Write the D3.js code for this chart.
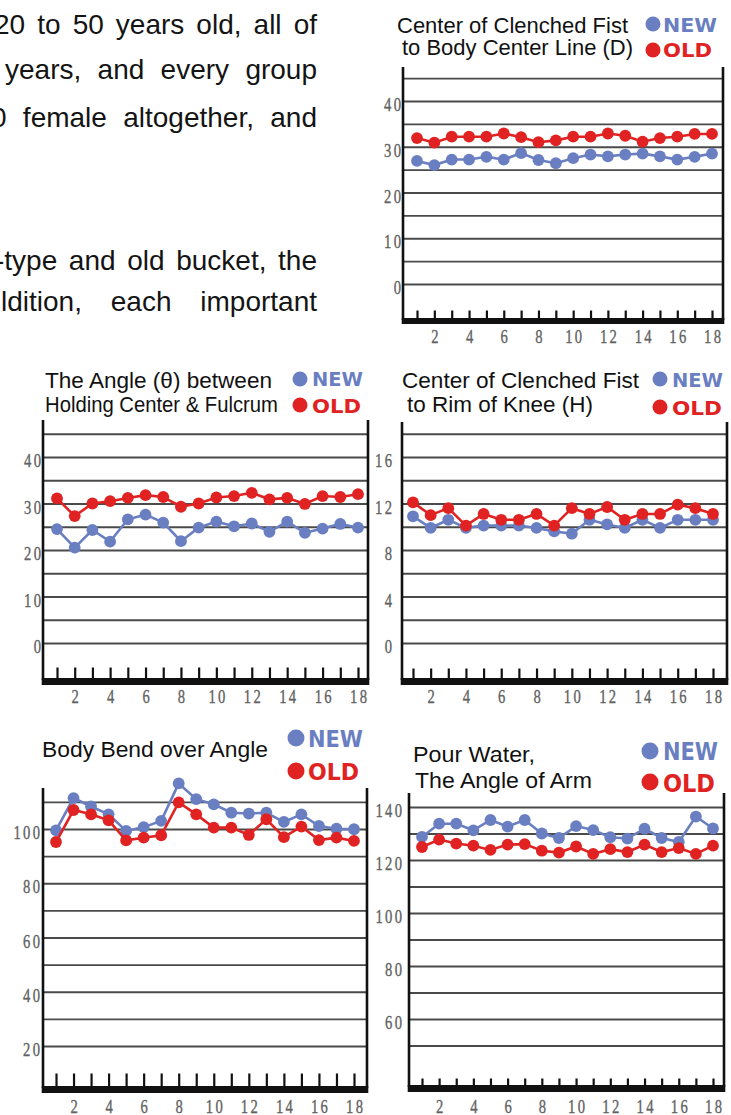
<!DOCTYPE html>
<html><head><meta charset="utf-8">
<script src="https://cdn.jsdelivr.net/npm/d3@7"></script>
<style>
html,body{margin:0;padding:0;background:#fff;overflow:hidden;}
svg{display:block;}
</style></head>
<body>
<svg id="c" width="731" height="1115"></svg>
<script>
// ---------------- DATA ----------------
const groups = [1,2,3,4,5,6,7,8,9,10,11,12,13,14,15,16,17,18];
const xTickLabels = [2,4,6,8,10,12,14,16,18];
const seriesNames = ["NEW","OLD"];

const titleD = ["Center of Clenched Fist","to Body Center Line (D)"];
const yTicksD = [0,10,20,30,40];
const gridD = [0,5,10,15,20,25,30,35,40,45];
const dNew = [26.9,26.0,27.2,27.2,27.8,27.2,28.6,27.1,26.4,27.5,28.3,27.9,28.3,28.5,27.9,27.2,27.8,28.5];
const dOld = [31.9,30.9,32.2,32.2,32.2,32.9,32.1,31.0,31.4,32.2,32.2,32.9,32.4,31.1,31.9,32.2,32.8,32.8];

const titleTheta = ["The Angle (θ) between","Holding Center & Fulcrum"];
const yTicksTheta = [0,10,20,30,40];
const gridTheta = [0,5,10,15,20,25,30,35,40,45];
const thetaNew = [24.5,20.5,24.3,21.8,26.6,27.6,25.9,21.9,24.8,26.1,25.1,25.7,23.9,26.1,23.7,24.6,25.6,24.8];
const thetaOld = [31.1,27.3,30.0,30.5,31.2,31.8,31.4,29.3,30.0,31.3,31.6,32.3,30.9,31.2,29.9,31.6,31.4,32.0];

const titleH = ["Center of Clenched Fist","to Rim of Knee (H)"];
const yTicksH = [0,4,8,12,16];
const gridH = [0,2,4,6,8,10,12,14,16,18];
const hNew = [10.9,9.9,10.6,9.9,10.1,10.1,10.1,9.9,9.6,9.4,10.6,10.2,9.9,10.6,9.9,10.6,10.6,10.6];
const hOld = [12.1,11.0,11.6,10.1,11.1,10.6,10.6,11.1,10.1,11.6,11.1,11.7,10.6,11.1,11.1,11.9,11.6,11.1];

const titleBend = ["Body Bend over Angle"];
const yTicksBend = [20,40,60,80,100];
const gridBend = [20,30,40,50,60,70,80,90,100,110];
const bendNew = [99.5,111.4,108.3,105.4,99.3,100.7,103.0,116.8,111.0,109.1,106.0,105.7,106.0,102.6,105.4,101.1,100.1,99.9];
const bendOld = [95.2,107.0,105.4,103.2,95.8,96.8,97.7,109.8,105.4,100.5,100.5,97.8,103.6,97.0,100.9,95.9,96.8,95.6];

const titlePour = ["Pour Water,","The Angle of Arm"];
const yTicksPour = [60,80,100,120,140];
const gridPour = [50,60,70,80,90,100,110,120,130,140];
const pourNew = [128.7,133.7,133.7,131.2,135.1,132.6,135.1,130.0,128.3,132.8,131.3,128.6,128.1,131.8,128.3,126.8,136.4,131.9];
const pourOld = [124.9,127.7,126.2,125.4,123.8,125.8,126.0,123.5,122.8,125.1,122.3,124.1,123.0,125.8,123.0,124.5,122.3,125.4];

const bodyText = [
  ["20","to","50","years","old,","all","of"],
  ["years,","and","every","group"],
  ["0","female","altogether,","and"],
  ["-type","and","old","bucket,","the"],
  ["ldition,","each","important"]
];

// ---------------- STYLE / LAYOUT ----------------
const SANS = "'Liberation Sans', Arial, Helvetica, sans-serif";
const SERIF = "'Liberation Serif', 'Times New Roman', serif";
const BOLD = "'DejaVu Sans', 'Liberation Sans', sans-serif";
const BLUE = "#6a7fc2", RED = "#e02222";
const svg = d3.select("#c");

// body paragraph (justified, cut at left edge like the reference)
const bodyLayout = [
  {start:-6, base:34}, {start:5, base:79}, {start:-9, base:127},
  {start:-5, base:270}, {start:1, base:311}
];
bodyText.forEach((words, li) => {
  const L = bodyLayout[li];
  const g = svg.append("g");
  const ts = words.map(w => g.append("text").text(w)
    .attr("font-family", SANS).attr("font-size", 28).attr("fill", "#141414").attr("y", L.base));
  const widths = ts.map(t => t.node().getComputedTextLength());
  const gap = (317 - L.start - d3.sum(widths)) / (words.length - 1);
  let x = L.start;
  ts.forEach((t, i) => { t.attr("x", x); x += widths[i] + gap; });
});

const layouts = [
  {left:403,right:723,top:67,barTop:318,barH:6,tickTop:310,x1:417,x18:712,
   yDomain:[0,40],yRange:[284,101],labelRight:401,xLabelY:337,
   titleX:[397,402],titleBase:[33,55],titleW:[231,231],
   dotX:653,dotY:[24,50],dotR:7.5,legX:663,legBase:[32,57],legW:[54,49],legFs:20},
  {left:43,right:368,top:420,barTop:678,barH:7,tickTop:667,x1:57,x18:358,
   yDomain:[0,40],yRange:[643,457],labelRight:41,xLabelY:697,
   titleX:[45,45],titleBase:[388,412],titleW:[227,233],
   dotX:300,dotY:[379,405],dotR:7.5,legX:312,legBase:[386,413],legW:[51,49],legFs:20},
  {left:402,right:727,top:422,barTop:678,barH:7,tickTop:668,x1:413,x18:713,
   yDomain:[0,16],yRange:[643,457],labelRight:392,xLabelY:697,
   titleX:[402,407],titleBase:[388,412],titleW:[237,186],
   dotX:660,dotY:[379,407],dotR:7.5,legX:672,legBase:[387,415],legW:[51,50],legFs:20},
  {left:43,right:367,top:788,barTop:1086,barH:7,tickTop:1073,x1:56,x18:354,
   yDomain:[20,100],yRange:[1046,829],labelRight:40,xLabelY:1107,
   titleX:[42],titleBase:[757],titleW:[226],
   dotX:296,dotY:[738,771],dotR:8.5,legX:308,legBase:[747,780],legW:[55,51],legFs:23},
  {left:409,right:724,top:793,barTop:1085,barH:7,tickTop:1078,x1:422,x18:713,
   yDomain:[60,140],yRange:[1019,807],labelRight:402,xLabelY:1107,
   titleX:[413,415],titleBase:[762,788],titleW:[122,177],
   dotX:650,dotY:[751,782],dotR:8.5,legX:663,legBase:[760,792],legW:[55,52],legFs:24}
];

const panelData = [
  {title:titleD, yTicks:yTicksD, grid:gridD, series:[dNew,dOld]},
  {title:titleTheta, yTicks:yTicksTheta, grid:gridTheta, series:[thetaNew,thetaOld]},
  {title:titleH, yTicks:yTicksH, grid:gridH, series:[hNew,hOld]},
  {title:titleBend, yTicks:yTicksBend, grid:gridBend, series:[bendNew,bendOld]},
  {title:titlePour, yTicks:yTicksPour, grid:gridPour, series:[pourNew,pourOld]}
];

const SX = 0.77, LS = 3;

function styleNum(sel){
  sel.attr("font-family", SERIF).attr("font-size", 19).attr("fill", "#626262")
     .attr("stroke", "#626262").attr("stroke-width", 0.35)
     .attr("letter-spacing", LS);
}

panelData.forEach((P, k) => {
  const p = layouts[k];
  const g = svg.append("g");
  const x = d3.scalePoint().domain(groups).range([p.x1, p.x18]);
  const y = d3.scaleLinear().domain(p.yDomain).range(p.yRange);

  // gridlines
  const gg = g.append("g").attr("transform", `translate(${p.left},0)`)
    .call(d3.axisLeft(y).tickValues(P.grid).tickSize(-(p.right - p.left)).tickFormat(""));
  gg.select(".domain").remove();
  gg.selectAll("line").attr("stroke", "#4a4a4a").attr("stroke-width", 1.9);

  // y labels
  const yl = g.append("g").attr("transform", `translate(${p.labelRight},3.5)`)
    .call(d3.axisLeft(y).tickValues(P.yTicks).tickSize(0).tickPadding(0).tickFormat(d3.format("d")));
  yl.select(".domain").remove();
  yl.selectAll("text").call(styleNum).attr("x", LS).attr("transform", `scale(${SX},1)`);

  // vertical frame lines
  [p.left, p.right].forEach(xx => {
    g.append("line").attr("x1", xx).attr("x2", xx).attr("y1", p.top).attr("y2", p.barTop + 2)
      .attr("stroke", "#111").attr("stroke-width", 2.6);
  });

  // bottom thick bar
  g.append("rect").attr("x", p.left - 1.3).attr("y", p.barTop).attr("width", p.right - p.left + 2.6)
    .attr("height", p.barH).attr("fill", "#111");

  // tick marks above bar
  const tk = g.append("g").attr("transform", `translate(0,${p.barTop + 0.5})`)
    .call(d3.axisTop(x).tickSize(p.barTop - p.tickTop).tickFormat(""));
  tk.select(".domain").remove();
  tk.selectAll("line").attr("stroke", "#111").attr("stroke-width", 2.2);

  // x labels
  const xl = g.append("g").attr("transform", `translate(0,${p.xLabelY})`)
    .call(d3.axisBottom(x).tickValues(xTickLabels).tickSize(0).tickPadding(0));
  xl.select(".domain").remove();
  xl.selectAll("text").call(styleNum).attr("dy", "0.34em").attr("y", 0).attr("x", LS / 2)
    .attr("transform", `scale(${SX},1)`);

  // series
  const cols = [BLUE, RED];
  P.series.forEach((vals, si) => {
    const line = d3.line().x((d, i) => x(groups[i])).y(d => y(d));
    g.append("path").datum(vals).attr("d", line).attr("fill", "none")
      .attr("stroke", cols[si]).attr("stroke-width", 2.6);
    g.append("g").selectAll("circle").data(vals).join("circle")
      .attr("cx", (d, i) => x(groups[i])).attr("cy", d => y(d)).attr("r", 5.9).attr("fill", cols[si]);
  });

  // title
  P.title.forEach((t, i) => {
    g.append("text").text(t).attr("x", p.titleX[i]).attr("y", p.titleBase[i])
      .attr("font-family", SANS).attr("font-size", 21.5).attr("fill", "#111")
      .attr("textLength", p.titleW[i]).attr("lengthAdjust", "spacingAndGlyphs");
  });

  // legend
  seriesNames.forEach((nm, i) => {
    g.append("circle").attr("cx", p.dotX).attr("cy", p.dotY[i]).attr("r", p.dotR).attr("fill", cols[i]);
    g.append("text").text(nm).attr("x", p.legX).attr("y", p.legBase[i])
      .attr("font-family", BOLD).attr("font-weight", "bold").attr("font-size", p.legFs)
      .attr("fill", cols[i]).attr("textLength", p.legW[i]).attr("lengthAdjust", "spacingAndGlyphs");
  });
});
</script>
</body></html>
